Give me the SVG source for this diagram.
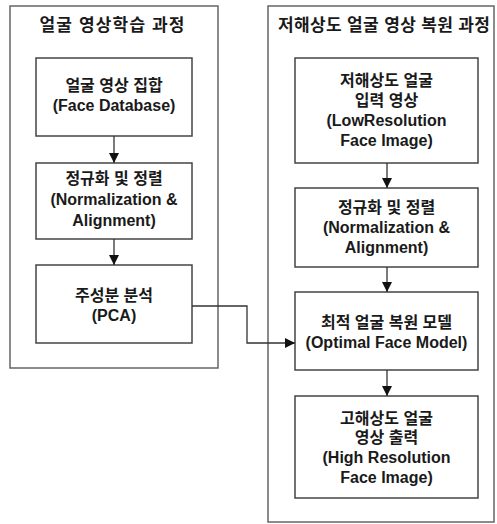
<svg xmlns="http://www.w3.org/2000/svg" width="497" height="524" viewBox="0 0 497 524">
<style>
.bg{fill:#fff}
.cont{fill:none;stroke:#666;stroke-width:1.5}
.box{fill:#fff;stroke:#444;stroke-width:1.5}
.t{font-family:"Liberation Sans","Noto Sans CJK KR",sans-serif;font-weight:bold;font-size:16px;fill:#1a1a1a;text-anchor:middle}
.title{font-size:17px}
.ln{fill:none;stroke:#333;stroke-width:1.3}
</style>
<defs>
<marker id="ah" viewBox="0 0 10 10" refX="10" refY="5" markerWidth="10" markerHeight="10" markerUnits="userSpaceOnUse" orient="auto">
<path d="M0,0 L10,5 L0,10 Z" fill="#111"/>
</marker>
</defs>
<rect class="bg" x="0" y="0" width="497" height="524"/>
<g id="left-container">
<rect class="cont" x="10" y="6" width="208" height="362"/>
<text class="t title" x="112" y="31" textLength="145" lengthAdjust="spacing">얼굴 영상학습 과정</text>
</g>
<g id="right-container">
<rect class="cont" x="268" y="6" width="226" height="516"/>
<text class="t title" x="384" y="31" textLength="212" lengthAdjust="spacing">저해상도 얼굴 영상 복원 과정</text>
</g>
<g id="face-database">
<rect class="box" x="36" y="58" width="156" height="78"/>
<text class="t" x="114" y="91">얼굴 영상 집합</text>
<text class="t" x="114" y="111">(Face Database)</text>
</g>
<g id="normalization-left">
<rect class="box" x="36" y="163" width="156" height="76"/>
<text class="t" x="114" y="184">정규화 및 정렬</text>
<text class="t" x="114" y="205">(Normalization &amp;</text>
<text class="t" x="114" y="226">Alignment)</text>
</g>
<g id="pca">
<rect class="box" x="36" y="265" width="156" height="78"/>
<text class="t" x="114" y="301">주성분 분석</text>
<text class="t" x="114" y="321">(PCA)</text>
</g>
<g id="low-res-input">
<rect class="box" x="295" y="58" width="183" height="105"/>
<text class="t" x="386.5" y="86">저해상도 얼굴</text>
<text class="t" x="386.5" y="106">입력 영상</text>
<text class="t" x="386.5" y="126">(LowResolution</text>
<text class="t" x="386.5" y="146">Face Image)</text>
</g>
<g id="normalization-right">
<rect class="box" x="295" y="188" width="183" height="79"/>
<text class="t" x="386.5" y="213">정규화 및 정렬</text>
<text class="t" x="386.5" y="233">(Normalization &amp;</text>
<text class="t" x="386.5" y="253">Alignment)</text>
</g>
<g id="optimal-model">
<rect class="box" x="295" y="292" width="183" height="78"/>
<text class="t" x="386.5" y="328">최적 얼굴 복원 모델</text>
<text class="t" x="386.5" y="348">(Optimal Face Model)</text>
</g>
<g id="high-res-output">
<rect class="box" x="295" y="396" width="183" height="102"/>
<text class="t" x="386.5" y="424">고해상도 얼굴</text>
<text class="t" x="386.5" y="443">영상 출력</text>
<text class="t" x="386.5" y="463">(High Resolution</text>
<text class="t" x="386.5" y="483">Face Image)</text>
</g>
<g id="connectors">
<line class="ln" x1="114" y1="136" x2="114" y2="163" marker-end="url(#ah)"/>
<line class="ln" x1="114" y1="239" x2="114" y2="265" marker-end="url(#ah)"/>
<line class="ln" x1="387" y1="163" x2="387" y2="188" marker-end="url(#ah)"/>
<line class="ln" x1="387" y1="267" x2="387" y2="292" marker-end="url(#ah)"/>
<line class="ln" x1="387" y1="370" x2="387" y2="396" marker-end="url(#ah)"/>
<polyline class="ln" points="192,306 247,306 247,343 295,343" marker-end="url(#ah)"/>
</g>
</svg>
